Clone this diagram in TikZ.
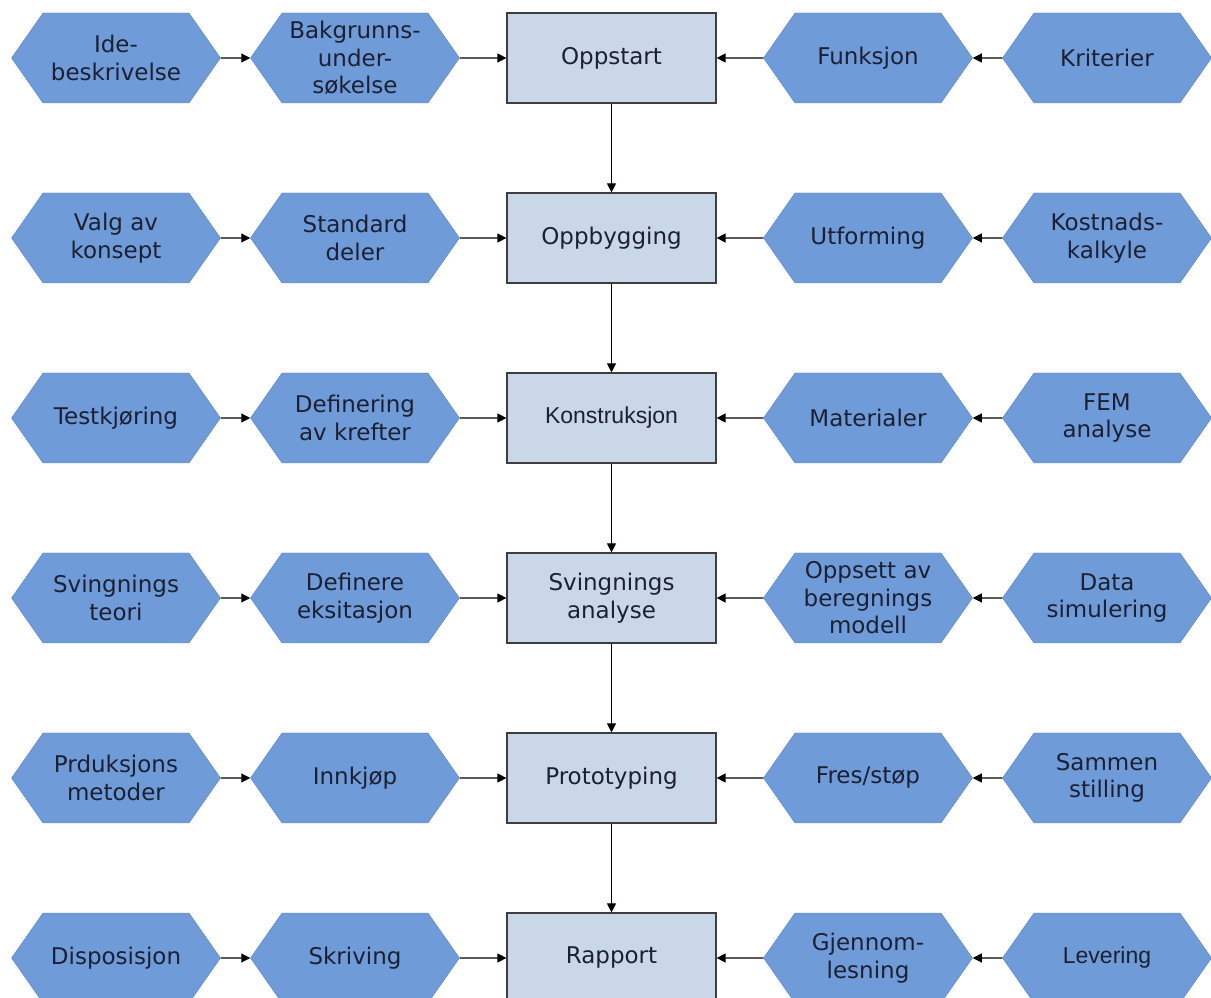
\documentclass[tikz,border=0pt]{standalone}
\usepackage{fontspec}
\setmainfont{DejaVu Sans}
\newfontfamily\arialfont{Liberation Sans}
\usetikzlibrary{shapes.symbols, arrows.meta, positioning}

\definecolor{hexfill}{HTML}{6F9BD9}
\definecolor{hexline}{HTML}{5C86C2}
\definecolor{boxfill}{HTML}{C9D7E9}
\definecolor{boxline}{HTML}{3E3E3E}
\definecolor{inktext}{HTML}{1C2033}

\begin{document}
\begin{tikzpicture} [x = 1pt, y = 1pt, node distance = 180pt and 239pt, on grid,
  task/.style = {signal, signal to = east and west, signal pointer angle = 110,
    draw = hexline, fill = hexfill, minimum width = 209pt, minimum height = 90pt,
    inner sep = 0pt, align = center, text = inktext,
    font = \fontsize{23}{27.5}\selectfont},
  phase/.style = {rectangle, draw = boxline, line width = 1.2pt, fill = boxfill,
    minimum width = 209pt, minimum height = 90pt, inner sep = 0pt,
    align = center, text = inktext, font = \fontsize{23}{27.5}\selectfont}]

\useasboundingbox (0,0) rectangle (1211,997);

% middle column
\node (opp) [phase] at (611.5,939) {Oppstart};
\node (oppb) [phase, below = of opp] {Oppbygging};
\node (kon) [phase, below = of oppb, font = \arialfont\fontsize{23}{27.5}\selectfont] {Konstruksjon};
\node (sva) [phase, below = of kon] {Svingnings\\analyse};
\node (pro) [phase, below = of sva] {Prototyping};
\node (rap) [phase, below = of pro] {Rapport};

% row 1
\node (bak) [task, left = 256.5pt of opp] {Bakgrunns-\\under-\\søkelse};
\node (ide) [task, left = of bak] {Ide-\\beskrivelse};
\node (fun) [task, right = 256.5pt of opp] {Funksjon};
\node (kri) [task, right = of fun] {Kriterier};

% row 2
\node (std) [task, left = 256.5pt of oppb] {Standard\\deler};
\node (val) [task, left = of std] {Valg av\\konsept};
\node (utf) [task, right = 256.5pt of oppb] {Utforming};
\node (kos) [task, right = of utf] {Kostnads-\\kalkyle};

% row 3
\node (def) [task, left = 256.5pt of kon] {Definering\\av krefter};
\node (tes) [task, left = of def] {Testkjøring};
\node (mat) [task, right = 256.5pt of kon] {Materialer};
\node (fem) [task, right = of mat] {FEM\\analyse};

% row 4
\node (eks) [task, left = 256.5pt of sva] {Definere\\eksitasjon};
\node (svt) [task, left = of eks] {Svingnings\\teori};
\node (ber) [task, right = 256.5pt of sva] {Oppsett av\\beregnings\\modell};
\node (sim) [task, right = of ber] {Data\\simulering};

% row 5
\node (inn) [task, left = 256.5pt of pro] {Innkjøp};
\node (prm) [task, left = of inn] {Prduksjons\\metoder};
\node (fre) [task, right = 256.5pt of pro] {Fres/støp};
\node (sam) [task, right = of fre] {Sammen\\stilling};

% row 6
\node (skr) [task, left = 256.5pt of rap] {Skriving};
\node (dis) [task, left = of skr] {Disposisjon};
\node (gje) [task, right = 256.5pt of rap] {Gjennom-\\lesning};
\node (lev) [task, right = of gje, font = \arialfont\fontsize{23}{27.5}\selectfont] {Levering};

\path [-{Triangle[length = 9pt, width = 9pt]}, line width = 1.1pt]
	(ide) edge (bak)  (bak) edge (opp)  (kri) edge (fun)  (fun) edge (opp)
	(val) edge (std)  (std) edge (oppb) (kos) edge (utf)  (utf) edge (oppb)
	(tes) edge (def)  (def) edge (kon)  (fem) edge (mat)  (mat) edge (kon)
	(svt) edge (eks)  (eks) edge (sva)  (sim) edge (ber)  (ber) edge (sva)
	(prm) edge (inn)  (inn) edge (pro)  (sam) edge (fre)  (fre) edge (pro)
	(dis) edge (skr)  (skr) edge (rap)  (lev) edge (gje)  (gje) edge (rap)
	(opp) edge (oppb) (oppb) edge (kon) (kon) edge (sva)
	(sva) edge (pro)  (pro) edge (rap);
\end{tikzpicture}
\end{document}
